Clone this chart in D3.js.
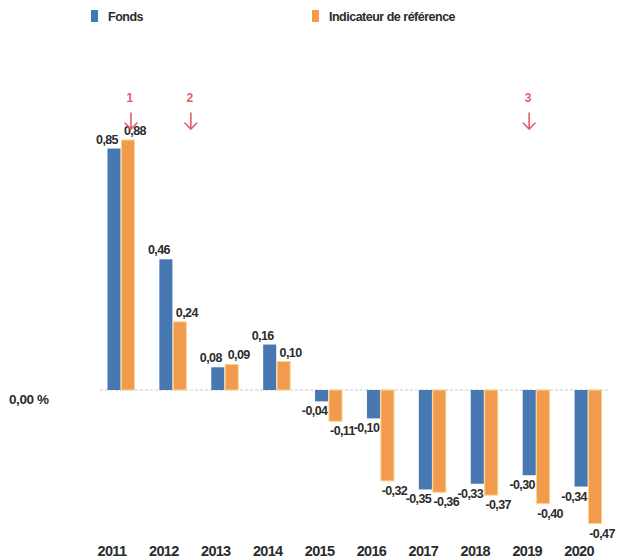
<!DOCTYPE html>
<html lang="fr">
<head>
  <meta charset="UTF-8">
  <script src="https://d3js.org/d3.v7.min.js"></script>
  <title>Fonds vs Indicateur de référence</title>
  <style>
    body {
      margin: 0;
      background: #fff;
      font-family: "Liberation Sans", Arial, sans-serif;
    }
    text {
      font-weight: bold;
      fill: #2b2b2b;
    }
  </style>
</head>
<body>
<script>
  // Data
  const years = ["2011", "2012", "2013", "2014", "2015", "2016", "2017", "2018", "2019", "2020"];
  const fonds = [0.85, 0.46, 0.08, 0.16, -0.04, -0.10, -0.35, -0.33, -0.30, -0.34];
  const indicateur = [0.88, 0.24, 0.09, 0.10, -0.11, -0.32, -0.36, -0.37, -0.40, -0.47];
  const seriesNames = ["Fonds", "Indicateur de référence"];
  const markers = [{ n: "1", year: "2011" }, { n: "2", year: "2012" }, { n: "3", year: "2019" }];

  const width = 619, height = 560;
  const colors = ["#4878b2", "#f29b4e"];

  const svg = d3.select("body").append("svg")
    .attr("width", width)
    .attr("height", height);

  // Scales
  const x = d3.scaleBand().domain(years).range([95, 614]).paddingInner(0.48).paddingOuter(0.24);
  const xs = d3.scaleBand().domain([0, 1]).range([0, x.bandwidth()]).paddingInner(0.06);
  const y = d3.scaleLinear().domain([0, 0.88]).range([390, 140]);

  // Zero line (faint dotted)
  svg.append("line")
    .attr("x1", 100).attr("x2", 608)
    .attr("y1", y(0)).attr("y2", y(0))
    .attr("stroke", "#c8c8c8")
    .attr("stroke-width", 1)
    .attr("stroke-dasharray", "3,2");

  svg.append("text")
    .attr("x", 9).attr("y", y(0) + 14)
    .attr("font-size", 13.5)
    .attr("letter-spacing", -0.4)
    .text("0,00 %");

  const rows = years.map((yr, i) => ({ year: yr, vals: [fonds[i], indicateur[i]] }));

  const groups = svg.append("g").selectAll("g")
    .data(rows)
    .join("g")
    .attr("transform", d => `translate(${x(d.year)},0)`);

  groups.selectAll("rect")
    .data(d => d.vals.map((v, k) => ({ v, k })))
    .join("rect")
    .attr("x", d => xs(d.k))
    .attr("width", xs.bandwidth())
    .attr("y", d => Math.min(y(d.v), y(0)))
    .attr("height", d => Math.abs(y(d.v) - y(0)))
    .attr("fill", d => colors[d.k])
    .attr("stroke", d => d.k === 1 ? "#fbd58a" : "none")
    .attr("stroke-width", 1);

  const fmt = v => d3.format(".2f")(v).replace(".", ",").replace("−", "-");

  groups.selectAll("text.val")
    .data(d => d.vals.map((v, k) => ({ v, k })))
    .join("text")
    .attr("class", "val")
    .attr("x", d => xs(d.k) + xs.bandwidth() / 2 + (d.k === 0 ? -7 : 7))
    .attr("y", d => d.v >= 0 ? y(d.v) - 5 : y(d.v) + 14)
    .attr("text-anchor", "middle")
    .attr("font-size", 12.5)
    .attr("letter-spacing", -0.6)
    .text(d => fmt(d.v));

  // Year axis labels
  svg.append("g").selectAll("text")
    .data(years)
    .join("text")
    .attr("x", d => x(d) + x.bandwidth() / 2 - 9)
    .attr("y", 556)
    .attr("text-anchor", "middle")
    .attr("font-size", 14.5)
    .attr("letter-spacing", -0.7)
    .attr("fill", "#333")
    .text(d => d);

  // Legend
  const legend = svg.append("g");
  const legX = [91, 312];
  seriesNames.forEach((name, i) => {
    legend.append("rect")
      .attr("x", legX[i]).attr("y", 10)
      .attr("width", 7).attr("height", 12)
      .attr("fill", colors[i]);
    legend.append("text")
      .attr("x", legX[i] + 17).attr("y", 21)
      .attr("font-size", 12.5)
      .attr("letter-spacing", -0.5)
      .attr("fill", "#333")
      .text(name);
  });

  // Red numbered arrows
  const red = "#e0606e";
  const markOffset = { "2011": 10, "2012": 18, "2019": -7 };
  const mk = svg.append("g").selectAll("g")
    .data(markers)
    .join("g")
    .attr("transform", d => `translate(${x(d.year) + x.bandwidth() / 2 + markOffset[d.year]},0)`);

  mk.append("text")
    .attr("x", -1).attr("y", 102)
    .attr("text-anchor", "middle")
    .attr("font-size", 12)
    .style("fill", red)
    .text(d => d.n);

  mk.append("path")
    .attr("d", "M0,113 L0,129 M-6,123 L0,129 L6,123")
    .attr("fill", "none")
    .attr("stroke", red)
    .attr("stroke-width", 1.6)
    .attr("stroke-linecap", "round");
</script>
</body>
</html>
